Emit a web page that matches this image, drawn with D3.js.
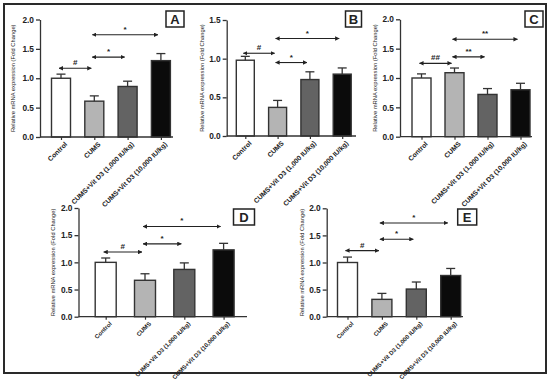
<!DOCTYPE html>
<html>
<head>
<meta charset="utf-8">
<script src="https://cdn.jsdelivr.net/npm/d3@7"></script>
<style>
  body { margin: 0; background: #fff; }
  svg { display: block; }
  text { font-family: "Liberation Sans", Arial, sans-serif; fill: #222; }
</style>
</head>
<body>
<div id="chart"></div>
<script>
// groups on the x axis
var categories = ["Control", "CUMS", "CUMS+Vit D3 (1,000 IU/kg)", "CUMS+Vit D3 (10,000 IU/kg)"]
var panelNames = ["A", "B", "C", "D", "E"]

// mean fold change and error per panel
var meansA = [1.00, 0.61, 0.86, 1.30], errA = [0.07, 0.09, 0.09, 0.12]
var meansB = [0.98, 0.37, 0.73, 0.80], errB = [0.05, 0.09, 0.10, 0.08]
var meansC = [1.00, 1.09, 0.72, 0.80], errC = [0.07, 0.08, 0.10, 0.11]
var meansD = [1.00, 0.67, 0.87, 1.23], errD = [0.08, 0.12, 0.12, 0.12]
var meansE = [1.00, 0.32, 0.51, 0.76], errE = [0.10, 0.11, 0.13, 0.13]

// y ticks per panel
var ticksA = [0, 0.5, 1.0, 1.5, 2.0]
var ticksB = [0, 0.5, 1.0, 1.5]
var ticksC = [0, 0.5, 1.0, 1.5, 2.0]
var ticksD = [0, 0.5, 1.0, 1.5, 2.0]
var ticksE = [0, 0.5, 1.0, 1.5, 2.0]

// significance brackets: [from group, to group, height, mark]
var sigA = [[0, 1, 1.17, "#"], [1, 2, 1.36, "*"], [1, 3, 1.74, "*"]]
var sigB = [[0, 1, 1.07, "#"], [1, 2, 0.95, "*"], [1, 3, 1.26, "*"]]
var sigC = [[0, 1, 1.25, "##"], [1, 2, 1.36, "**"], [1, 3, 1.66, "**"]]
var sigD = [[0, 1, 1.19, "#"], [1, 2, 1.34, "*"], [1, 3, 1.66, "*"]]
var sigE = [[0, 1, 1.22, "#"], [1, 2, 1.43, "*"], [1, 3, 1.73, "*"]]

var fills = ["#ffffff", "#b4b4b4", "#636363", "#0b0b0b"]
var yTitle = "Relative mRNA expression (Fold Change)"

var W = 550, H = 379

var svg = d3.select("#chart").append("svg")
  .attr("width", W).attr("height", H)

svg.append("defs").append("marker")
  .attr("id", "arr")
  .attr("viewBox", "0 0 10 10")
  .attr("refX", 9).attr("refY", 5)
  .attr("markerWidth", 4.5).attr("markerHeight", 4.5)
  .attr("markerUnits", "userSpaceOnUse")
  .attr("orient", "auto-start-reverse")
  .append("path").attr("d", "M0,0 L10,5 L0,10 z").attr("fill", "#222")

// outer frame
svg.append("rect")
  .attr("x", 4).attr("y", 4).attr("width", 542).attr("height", 369)
  .attr("fill", "none").attr("stroke", "#2a2a2a").attr("stroke-width", 2)

// panel placement
var panels = [
  { name: "A", means: meansA, err: errA, ticks: ticksA, sig: sigA, ymax: 2, fs: 6.8,
    ax: 40, y0: 137, yTop: 19.5, c0: 61, step: 33.3, bw: 19, axEnd: 173, labX: 13, box: [166, 11, 18] },
  { name: "B", means: meansB, err: errB, ticks: ticksB, sig: sigB, ymax: 1.5, fs: 6.8,
    ax: 226.7, y0: 136, yTop: 20, c0: 245.3, step: 32.3, bw: 18, axEnd: 356, labX: 201.7, box: [345.5, 11, 16] },
  { name: "C", means: meansC, err: errC, ticks: ticksC, sig: sigC, ymax: 2, fs: 6.8,
    ax: 400, y0: 136.7, yTop: 19.3, c0: 421.5, step: 33, bw: 19, axEnd: 532, labX: 375, box: [525, 11, 18] },
  { name: "D", means: meansD, err: errD, ticks: ticksD, sig: sigD, ymax: 2, fs: 6,
    ax: 78.5, y0: 316.7, yTop: 208, c0: 105.7, step: 39.3, bw: 21, axEnd: 247, labX: 53, box: [233.5, 209, 21] },
  { name: "E", means: meansE, err: errE, ticks: ticksE, sig: sigE, ymax: 2, fs: 6,
    ax: 326.7, y0: 316.7, yTop: 208.3, c0: 347.5, step: 34.4, bw: 20, axEnd: 463, labX: 301.7, box: [457.7, 209, 19] }
]

panels.forEach(drawPanel)

function drawPanel(p) {
  var g = svg.append("g")

  var x = d3.scalePoint()
    .domain(categories)
    .range([p.c0, p.c0 + p.step * (categories.length - 1)])

  var y = d3.scaleLinear()
    .domain([0, p.ymax])
    .range([p.y0, p.yTop])

  var rows = categories.map(function (c, i) {
    return { cat: c, mean: p.means[i], err: p.err[i], fill: fills[i] }
  })

  // bars
  g.selectAll("rect.bar").data(rows).enter().append("rect")
    .attr("class", "bar")
    .attr("x", function (d) { return x(d.cat) - p.bw / 2 })
    .attr("y", function (d) { return y(d.mean) })
    .attr("width", p.bw)
    .attr("height", function (d) { return p.y0 - y(d.mean) })
    .attr("fill", function (d) { return d.fill })
    .attr("stroke", "#333").attr("stroke-width", 1.4)

  // error bars
  var eb = g.selectAll("g.eb").data(rows).enter().append("g").attr("class", "eb")
  eb.append("line")
    .attr("x1", function (d) { return x(d.cat) })
    .attr("x2", function (d) { return x(d.cat) })
    .attr("y1", function (d) { return y(d.mean) })
    .attr("y2", function (d) { return y(d.mean + d.err) })
    .attr("stroke", "#333").attr("stroke-width", 1.3)
  eb.append("line")
    .attr("x1", function (d) { return x(d.cat) - 4.5 })
    .attr("x2", function (d) { return x(d.cat) + 4.5 })
    .attr("y1", function (d) { return y(d.mean + d.err) })
    .attr("y2", function (d) { return y(d.mean + d.err) })
    .attr("stroke", "#333").attr("stroke-width", 1.3)

  // y axis
  var yAxis = d3.axisLeft(y)
    .tickValues(p.ticks)
    .tickFormat(d3.format(".1f"))
    .tickSize(4).tickSizeOuter(0).tickPadding(2)
  var ya = g.append("g")
    .attr("transform", "translate(" + p.ax + ",0)")
    .call(yAxis)
  ya.select(".domain").attr("stroke", "#333").attr("stroke-width", 1.3)
  ya.selectAll(".tick line").attr("stroke", "#333").attr("stroke-width", 1.3)
  ya.selectAll(".tick text")
    .style("font-size", "8.3px").style("font-weight", "bold")
    .style("font-family", "'Liberation Sans', Arial, sans-serif").attr("fill", "#222")

  // x axis
  var xAxis = d3.axisBottom(x).tickSize(3).tickFormat("")
  var xa = g.append("g")
    .attr("transform", "translate(0," + p.y0 + ")")
    .call(xAxis)
  xa.select(".domain").remove()
  xa.selectAll(".tick line").attr("stroke", "#333").attr("stroke-width", 1.2)
  g.append("line")
    .attr("x1", p.ax).attr("x2", p.axEnd)
    .attr("y1", p.y0).attr("y2", p.y0)
    .attr("stroke", "#333").attr("stroke-width", 1.3)

  g.selectAll("text.xl").data(categories).enter().append("text")
    .attr("class", "xl")
    .attr("transform", function (d) {
      return "translate(" + (x(d) + 5) + "," + (p.y0 + 6) + ") rotate(-45)"
    })
    .attr("text-anchor", "end")
    .attr("dy", "0.35em")
    .style("font-size", p.fs + "px").style("font-weight", "bold")
    .text(function (d) { return d })

  // y title
  g.append("text")
    .attr("transform", "translate(" + p.labX + "," + ((p.y0 + p.yTop) / 2) + ") rotate(-90)")
    .attr("text-anchor", "middle")
    .attr("dy", "0.35em")
    .style("font-size", "5.8px")
    .text(yTitle)

  // significance brackets
  p.sig.forEach(function (s) {
    var x1 = x(categories[s[0]]) - 2, x2 = x(categories[s[1]]) - 3, yy = y(s[2])
    g.append("line")
      .attr("x1", x1).attr("x2", x2).attr("y1", yy).attr("y2", yy)
      .attr("stroke", "#222").attr("stroke-width", 1.1)
      .attr("marker-start", "url(#arr)").attr("marker-end", "url(#arr)")
    g.append("text")
      .attr("x", (x1 + x2) / 2).attr("y", yy - 3)
      .attr("text-anchor", "middle")
      .style("font-size", "8px").style("font-weight", "bold")
      .text(s[3])
  })

  // panel letter box
  g.append("rect")
    .attr("x", p.box[0]).attr("y", p.box[1])
    .attr("width", p.box[2]).attr("height", 16)
    .attr("fill", "#fff").attr("stroke", "#222").attr("stroke-width", 1.5)
  g.append("text")
    .attr("x", p.box[0] + p.box[2] / 2).attr("y", p.box[1] + 8.5)
    .attr("text-anchor", "middle").attr("dy", "0.35em")
    .style("font-size", "13px").style("font-weight", "bold")
    .text(p.name)
}
</script>
</body>
</html>
